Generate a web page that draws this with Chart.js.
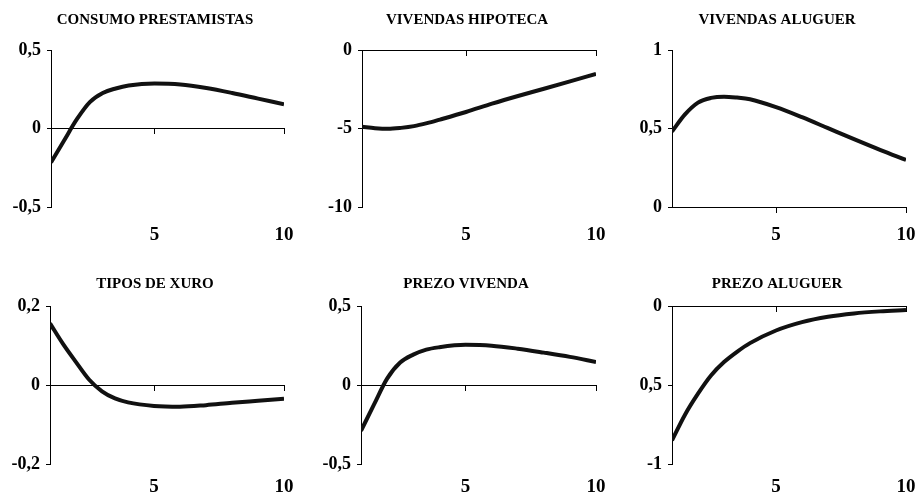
<!DOCTYPE html>
<html><head><meta charset="utf-8">
<script src="https://cdn.jsdelivr.net/npm/chart.js@4.4.1/dist/chart.umd.min.js"></script>
<style>
html,body{margin:0;padding:0;background:#fff;width:919px;height:497px;overflow:hidden}
canvas{position:absolute}
</style></head><body>
<canvas id="c1"></canvas><canvas id="c2"></canvas><canvas id="c3"></canvas>
<canvas id="c4"></canvas><canvas id="c5"></canvas><canvas id="c6"></canvas>
<script>
// ---- data ----
const periods = [1, 1.5, 2, 2.5, 3, 3.5, 4, 5, 6, 7, 8, 9, 10];
const xTickValues = [5, 10];
const xTickLabels = ['5', '10'];

const titles = ['CONSUMO PRESTAMISTAS', 'VIVENDAS HIPOTECA', 'VIVENDAS ALUGUER',
                'TIPOS DE XURO', 'PREZO VIVENDA', 'PREZO ALUGUER'];

const consumoPrestamistas = [-0.216, -0.078, 0.059, 0.168, 0.226, 0.255, 0.274, 0.287, 0.281, 0.258, 0.226, 0.19, 0.154];
const vivendasHipoteca    = [-4.89, -4.98, -5.02, -4.96, -4.85, -4.66, -4.43, -3.95, -3.42, -2.93, -2.47, -2.0, -1.52];
const vivendasAluguer     = [0.481, 0.59, 0.665, 0.695, 0.703, 0.697, 0.686, 0.636, 0.572, 0.502, 0.432, 0.364, 0.30];
const tiposDeXuro         = [0.156, 0.104, 0.058, 0.014, -0.016, -0.034, -0.044, -0.053, -0.055, -0.051, -0.045, -0.040, -0.035];
const prezoVivenda        = [-0.29, -0.123, 0.04, 0.142, 0.192, 0.224, 0.239, 0.254, 0.249, 0.230, 0.205, 0.178, 0.146];
const prezoAluguer        = [-0.851, -0.688, -0.555, -0.44, -0.355, -0.29, -0.235, -0.155, -0.102, -0.068, -0.047, -0.034, -0.025];

const yTicks1 = [-0.5, 0, 0.5];  const yLabels1 = ['-0,5', '0', '0,5'];
const yTicks2 = [-10, -5, 0];    const yLabels2 = ['-10', '-5', '0'];
const yTicks3 = [0, 0.5, 1];     const yLabels3 = ['0', '0,5', '1'];
const yTicks4 = [-0.2, 0, 0.2];  const yLabels4 = ['-0,2', '0', '0,2'];
const yTicks5 = [-0.5, 0, 0.5];  const yLabels5 = ['-0,5', '0', '0,5'];
const yTicks6 = [-1, -0.5, 0];   const yLabels6 = ['-1', '0,5', '0'];

// ---- layout (positions/styles) ----
// yw: width of y axis box (axis x - canvas left); xh: height of bottom label box
const boxes = [
  {id:'c1', x:0,   y:0,   w:310, h:248, yw:51, pr:26, pt:50, xh:41, lp:17, ty:20},
  {id:'c2', x:310, y:0,   w:314, h:248, yw:52, pr:28, pt:50, xh:41, lp:17, ty:20},
  {id:'c3', x:635, y:0,   w:284, h:248, yw:37, pr:13, pt:50, xh:41, lp:17, ty:20},
  {id:'c4', x:0,   y:249, w:310, h:248, yw:50, pr:26, pt:57, xh:33, lp:12, ty:35},
  {id:'c5', x:310, y:249, w:312, h:248, yw:51, pr:26, pt:57, xh:33, lp:12, ty:35},
  {id:'c6', x:635, y:249, w:284, h:248, yw:37, pr:13, pt:57, xh:33, lp:12, ty:35}
];
const seriesList = [consumoPrestamistas, vivendasHipoteca, vivendasAluguer, tiposDeXuro, prezoVivenda, prezoAluguer];
const yTickList = [yTicks1, yTicks2, yTicks3, yTicks4, yTicks5, yTicks6];
const yLabelList = [yLabels1, yLabels2, yLabels3, yLabels4, yLabels5, yLabels6];

const FONT = '"Liberation Serif", "Times New Roman", serif';

const titlePlugin = {
  id: 'panelTitle',
  afterDraw(chart, args, opts) {
    const ctx = chart.ctx;
    ctx.save();
    ctx.font = 'bold 15px ' + FONT;
    ctx.fillStyle = '#000';
    ctx.textAlign = 'center';
    ctx.textBaseline = 'middle';
    ctx.fillText(opts.text, chart.width / 2, opts.y);
    ctx.restore();
  }
};

boxes.forEach((b, i) => {
  const cv = document.getElementById(b.id);
  cv.width = b.w; cv.height = b.h;
  cv.style.left = b.x + 'px'; cv.style.top = b.y + 'px';
  const values = seriesList[i];
  const yT = yTickList[i], yL = yLabelList[i];
  new Chart(cv, {
    type: 'line',
    data: {
      datasets: [{
        data: periods.map((p, k) => ({x: p, y: values[k]})),
        borderColor: '#111', borderWidth: 4, pointRadius: 0,
        cubicInterpolationMode: 'monotone', fill: false,
        xAxisID: 'x', yAxisID: 'y', borderCapStyle: 'butt'
      }]
    },
    options: {
      responsive: false, animation: false, events: [],
      layout: {padding: {left: 0, right: b.pr, top: b.pt, bottom: 0}},
      plugins: {
        legend: {display: false}, tooltip: {enabled: false}, title: {display: false},
        panelTitle: {text: titles[i], y: b.ty}
      },
      scales: {
        x: {
          type: 'linear', position: {y: 0}, min: 1, max: 10,
          afterBuildTicks: s => { s.ticks = xTickValues.map(v => ({value: v})); },
          ticks: {display: false},
          grid: {drawOnChartArea: false, drawTicks: true, tickLength: 5, color: '#000', lineWidth: 1},
          border: {display: true, color: '#000', width: 1},
          afterFit: s => { s.paddingLeft = 0; s.paddingRight = 0; }
        },
        x2: {
          type: 'linear', axis: 'x', position: 'bottom', min: 1, max: 10,
          afterBuildTicks: s => { s.ticks = xTickValues.map(v => ({value: v})); },
          ticks: {
            callback: (v, k) => xTickLabels[k],
            font: {family: FONT, size: 19, weight: 'bold'}, color: '#000',
            padding: 0, maxRotation: 0, autoSkip: false
          },
          grid: {display: false, drawTicks: true, tickLength: b.lp},
          border: {display: false},
          afterFit: s => { s.height = b.xh; s.paddingLeft = 0; s.paddingRight = 0; }
        },
        y: {
          type: 'linear', position: 'left', min: yT[0], max: yT[yT.length - 1],
          afterBuildTicks: s => { s.ticks = yT.map(v => ({value: v})); },
          ticks: {
            callback: (v, k) => yL[k],
            font: {family: FONT, size: 18, weight: 'bold'}, color: '#000',
            padding: 6, autoSkip: false
          },
          grid: {drawOnChartArea: false, drawTicks: true, tickLength: 4, color: '#000', lineWidth: 1},
          border: {display: true, color: '#000', width: 1},
          afterFit: s => { s.width = b.yw; }
        }
      }
    },
    plugins: [titlePlugin]
  });
});
</script>
</body></html>
